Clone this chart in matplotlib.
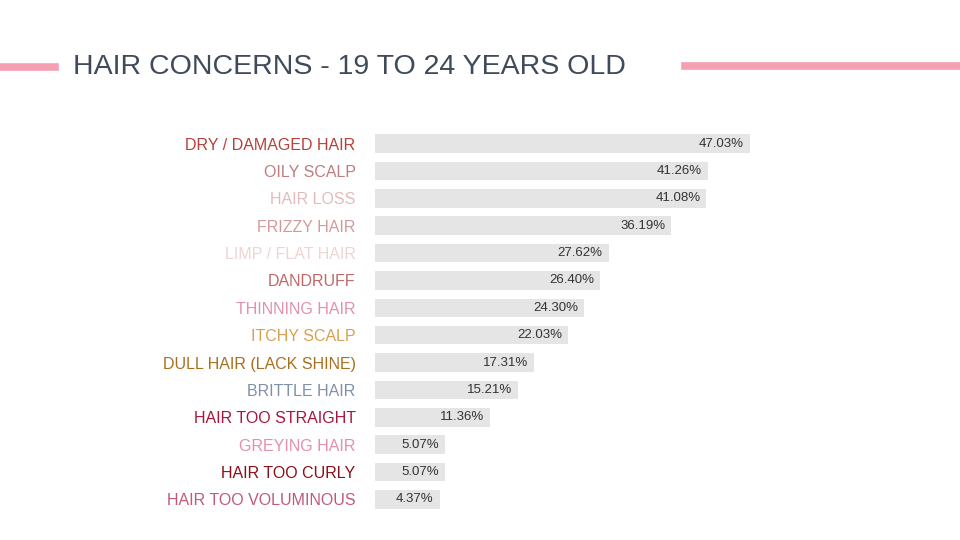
import matplotlib.pyplot as plt

categories = ['DRY / DAMAGED HAIR', 'OILY SCALP', 'HAIR LOSS', 'FRIZZY HAIR',
              'LIMP / FLAT HAIR', 'DANDRUFF', 'THINNING HAIR', 'ITCHY SCALP',
              'DULL HAIR (LACK SHINE)', 'BRITTLE HAIR', 'HAIR TOO STRAIGHT',
              'GREYING HAIR', 'HAIR TOO CURLY', 'HAIR TOO VOLUMINOUS']
values = [47.03, 41.26, 41.08, 36.19, 27.62, 26.40, 24.30, 22.03,
          17.31, 15.21, 11.36, 5.07, 5.07, 4.37]
label_colors = ['#b5413a', '#c07c7c', '#e2bcbc', '#d49a9a', '#efd4d4', '#c06868',
                '#e58fae', '#d8a050', '#a8701e', '#8090a8', '#a8163e',
                '#e58fae', '#8c0e16', '#c05a78']

fig = plt.figure(figsize=(9.6, 5.4), dpi=100)
fig.patch.set_facecolor('white')

# title and pink rules
fig.text(73 / 960, 1 - 67 / 540, 'HAIR CONCERNS - 19 TO 24 YEARS OLD',
         fontsize=20.5, color='#3f4a5a', va='center', ha='left',
         family='Liberation Sans')
fig.add_artist(plt.Line2D([0, 55 / 960], [1 - 67 / 540] * 2, color='#f4a0b2', lw=5.5))
fig.add_artist(plt.Line2D([685 / 960, 1], [1 - 66 / 540] * 2, color='#f4a0b2', lw=5.5))

ax = fig.add_axes([375 / 960, 1 - 513 / 540, 400 / 960, 383 / 540])
pad = 4.5
y = list(range(len(values)))
ax.barh(y, [v + pad for v in values], height=0.68, color='#e5e5e5')
for i, v in enumerate(values):
    ax.text(v + pad - 0.8, i, f'{v:.2f}%', ha='right', va='center',
            fontsize=9.5, color='#333333', family='Liberation Sans')
ax.set_yticks(y)
ax.set_yticklabels(categories, family='Liberation Sans', fontsize=11.5)
for t, c in zip(ax.get_yticklabels(), label_colors):
    t.set_color(c)
ax.tick_params(axis='y', length=0, pad=14)
ax.set_xticks([])
ax.set_xlim(0, 55)
ax.set_ylim(len(values) - 0.5, -0.5)
for s in ax.spines.values():
    s.set_visible(False)

fig.savefig('out.png', dpi=100)
